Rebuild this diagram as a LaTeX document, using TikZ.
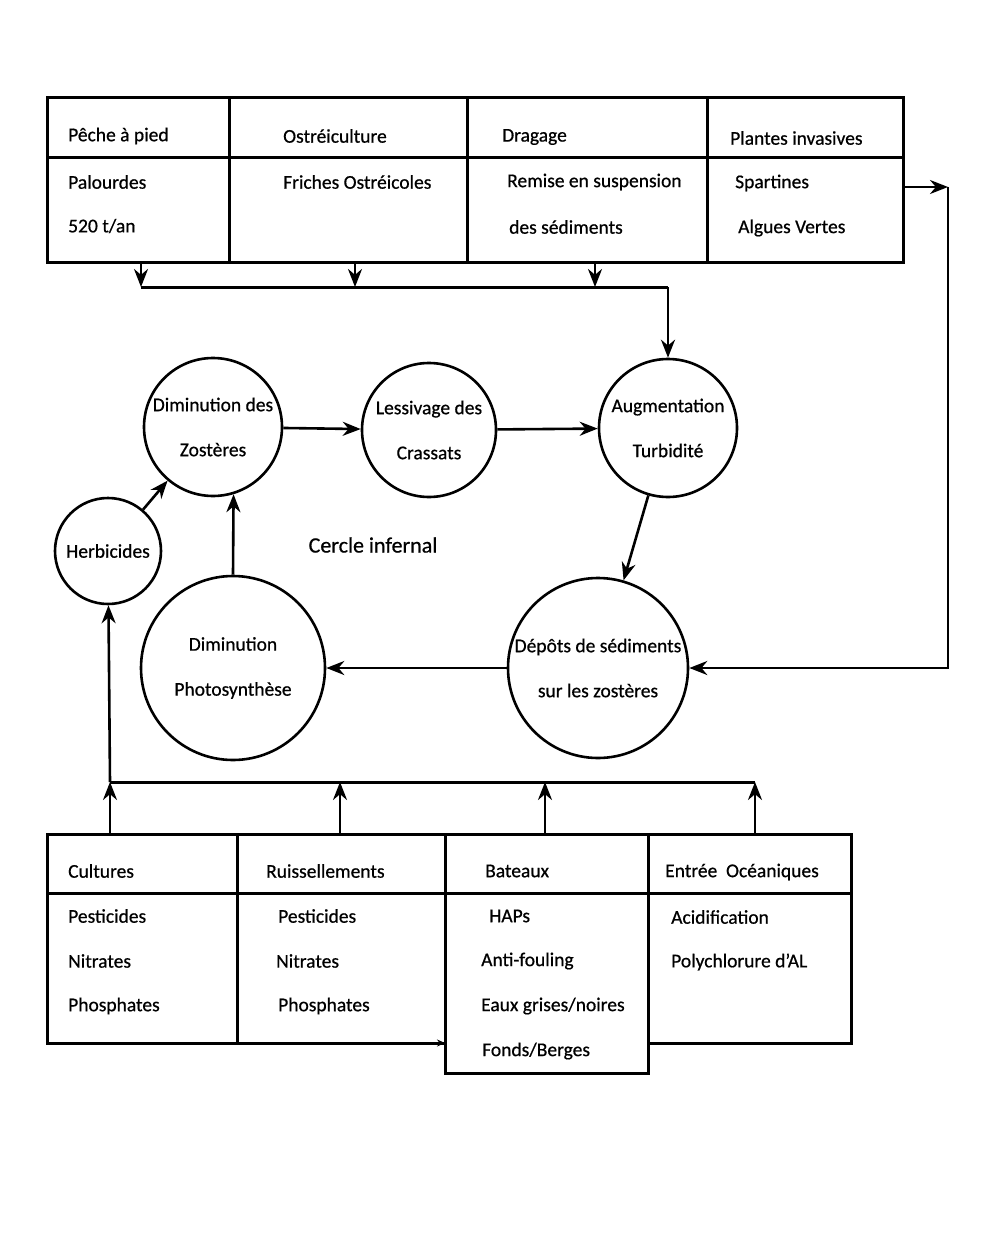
\documentclass[tikz,border=0pt]{standalone}
\usepackage{fontspec}
\setmainfont{Carlito}[FakeBold=0.6]
\usetikzlibrary{arrows.meta}

\tikzset{
  etat/.style={draw, circle, line width=2.6pt, align=center, inner sep=0pt,
    font=\fontsize{19.5}{45}\selectfont},
  txt/.style={anchor=west, inner sep=0pt, font=\fontsize{19.5}{23}\selectfont},
  trait/.style={line width=3pt},
  fleche/.style={line width=2.6pt, -{Stealth[length=18pt,width=14pt]}},
}

\begin{document}
\begin{tikzpicture}[x=1pt,y=-1pt]
\useasboundingbox[fill=white] (0,0) rectangle (999,1241);

% Top table
\draw[trait] (47,98) rectangle (903,262);
\draw[trait] (47,158) -- (903,158);
\draw[trait] (229,98) -- (229,262);
\draw[trait] (467,98) -- (467,262);
\draw[trait] (707,98) -- (707,262);

\node[txt] (peche) at (68,136) {Pêche à pied};
\node[txt] (palou) at (68,182) {Palourdes};
\node[txt] (tonnes) at (68,226) {520 t/an};
\node[txt] (ostrei) at (283,136) {Ostréiculture};
\node[txt] (friches) at (283,182) {Friches Ostréicoles};
\node[txt] (drag) at (502,137) {Dragage};
\node[txt] (remise) at (507,182) {Remise en suspension};
\node[txt] (dessed) at (509,227) {des sédiments};
\node[txt] (plantes) at (730,138) {Plantes invasives};
\node[txt] (spart) at (735,183) {Spartines};
\node[txt] (algues) at (738,228) {Algues Vertes};

% Circles
\node[etat, minimum size=138pt] (dimz) at (213,427) {Diminution des\\Zostères};
\node[etat, minimum size=134pt] (less) at (429,430) {Lessivage des\\Crassats};
\node[etat, minimum size=138pt] (aug) at (668,428) {Augmentation\\Turbidité};
\node[etat, minimum size=106pt] (herb) at (108,551) {Herbicides};
\node[etat, minimum size=184pt] (photo) at (233,668) {Diminution\\Photosynthèse};
\node[etat, minimum size=180pt] (depot) at (598,668) {Dépôts de sédiments\\sur les zostères};

\node[inner sep=0pt, font=\fontsize{22}{26}\selectfont] (cercle) at (373,545) {Cercle infernal};

% Cycle
\draw[fleche] (dimz) -- (less);
\draw[fleche] (less) -- (aug);
\draw[fleche] (aug) -- (depot);
\draw[fleche] (depot) -- (photo);
\draw[fleche] (photo.north) -- (dimz.-73);
\draw[fleche] (herb) -- (dimz);

% Top table to turbidity
\coordinate (pA) at (141,262);
\coordinate (pB) at (355,262);
\coordinate (pC) at (595,262);
\coordinate (busA) at (141,287);
\coordinate (busB) at (355,287);
\coordinate (busC) at (595,287);
\coordinate (busD) at (668,287);
\draw[fleche] (pA) -- (busA);
\draw[fleche] (pB) -- (busB);
\draw[fleche] (pC) -- (busC);
\draw[trait] (busA) -- (busD);
\draw[fleche] (busD) -- (aug);

% Invasive plants to deposits
\coordinate (pD) at (903,187);
\coordinate (coinH) at (948,187);
\coordinate (coinB) at (948,668);
\draw[fleche] (pD) -- (coinH);
\draw[fleche] (coinH) -- (coinB) -- (depot);

% Bottom table
\draw[trait] (47,834) rectangle (445,1043);
\draw[trait] (445,834) rectangle (648,1073);
\draw[trait] (648,834) rectangle (851,1043);
\draw[trait] (237,834) -- (237,1043);
\draw[trait] (47,893) -- (851,893);
\draw[line width=2pt, -{Stealth[length=8pt,width=7pt]}] (420,1043) -- (445,1043);

\node[txt] (cult) at (68,871) {Cultures};
\node[txt] (pest) at (68,916) {Pesticides};
\node[txt] (nitr) at (68,961) {Nitrates};
\node[txt] (phos) at (68,1006) {Phosphates};
\node[txt] (ruiss) at (266,871) {Ruissellements};
\node[txt] (pestb) at (278,916) {Pesticides};
\node[txt] (nitrb) at (276,961) {Nitrates};
\node[txt] (phosb) at (278,1006) {Phosphates};
\node[txt] (bat) at (485,871) {Bateaux};
\node[txt] (haps) at (489,916) {HAPs};
\node[txt] (antif) at (481,961) {Anti-fouling};
\node[txt] (eaux) at (481,1006) {Eaux grises/noires};
\node[txt] (fonds) at (482,1051) {Fonds/Berges};
\node[txt] (entree) at (665,872) {Entrée~~Océaniques};
\node[txt] (acid) at (671,917) {Acidification};
\node[txt] (poly) at (671,962) {Polychlorure d'AL};

% Bottom table to the cycle
\coordinate (qA) at (110,834);
\coordinate (qB) at (340,834);
\coordinate (qC) at (545,834);
\coordinate (qD) at (755,834);
\coordinate (jA) at (110,782);
\coordinate (jB) at (340,782);
\coordinate (jC) at (545,782);
\coordinate (jD) at (755,782);
\draw[trait] (jA) -- (jD);
\draw[fleche] (qA) -- (jA);
\draw[fleche] (qB) -- (jB);
\draw[fleche] (qC) -- (jC);
\draw[fleche] (qD) -- (jD);
\draw[fleche] (jA) -- (herb);
\end{tikzpicture}
\end{document}
